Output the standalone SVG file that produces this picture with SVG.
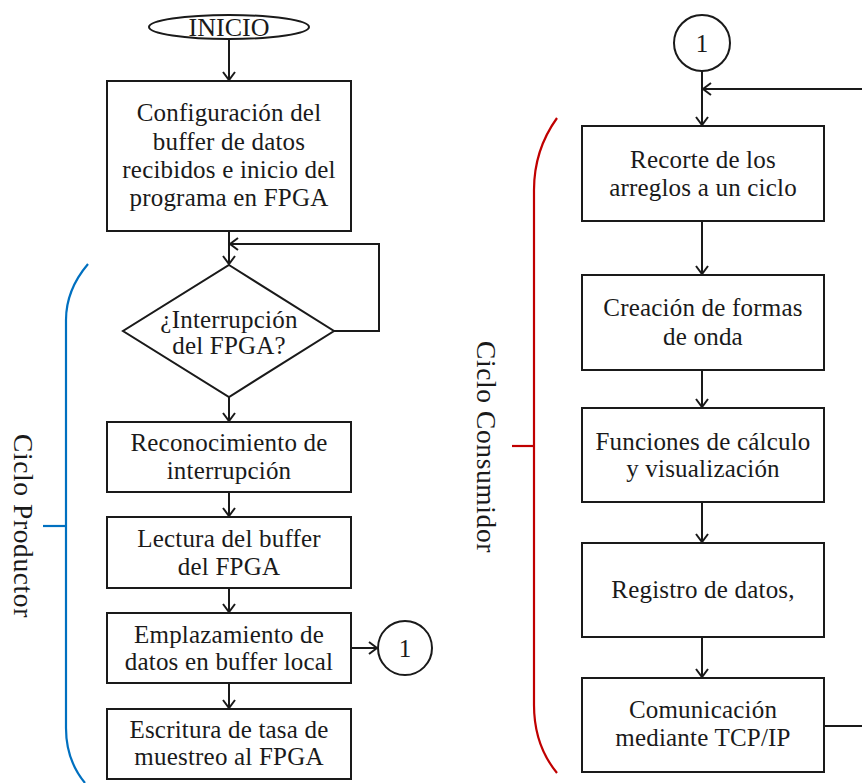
<svg xmlns="http://www.w3.org/2000/svg" width="862" height="783" viewBox="0 0 862 783">
  <style>
    .box { fill: #ffffff; stroke: #1a1a1a; stroke-width: 2; }
    .t { font-family: "Liberation Serif", "Times New Roman", serif; font-size: 25px; fill: #1a1a1a; text-anchor: middle; letter-spacing: 0.2px; }
    .lbl { font-family: "Liberation Serif", "Times New Roman", serif; font-size: 27.5px; fill: #1a1a1a; text-anchor: middle; letter-spacing: 0.6px; }
    .edge { fill: none; stroke: #1a1a1a; stroke-width: 2; }
    .brace-blue { fill: none; stroke: #0070c0; stroke-width: 2.2; }
    .brace-red { fill: none; stroke: #c00000; stroke-width: 2.2; }
  </style>
  <defs>
    <marker id="arrow" markerUnits="userSpaceOnUse" markerWidth="12" markerHeight="16" refX="9" refY="7" orient="auto">
      <path d="M1,1 L9,7 L1,13" fill="none" stroke="#1a1a1a" stroke-width="2"/>
    </marker>
  </defs>
  <rect width="862" height="783" fill="#ffffff"/>

  <!-- connectors -->
  <g id="connectors">
    <line class="edge" x1="229" y1="39" x2="229" y2="80" marker-end="url(#arrow)"/>
    <line class="edge" x1="229" y1="231" x2="229" y2="264" marker-end="url(#arrow)"/>
    <polyline class="edge" points="334,331 379,331 379,244 230,244" marker-end="url(#arrow)"/>
    <line class="edge" x1="229" y1="397" x2="229" y2="421" marker-end="url(#arrow)"/>
    <line class="edge" x1="229" y1="492" x2="229" y2="516" marker-end="url(#arrow)"/>
    <line class="edge" x1="229" y1="588" x2="229" y2="612" marker-end="url(#arrow)"/>
    <line class="edge" x1="229" y1="683" x2="229" y2="708" marker-end="url(#arrow)"/>
    <line class="edge" x1="350" y1="648" x2="377" y2="648" marker-end="url(#arrow)"/>

    <line class="edge" x1="702" y1="71" x2="702" y2="125" marker-end="url(#arrow)"/>
    <line class="edge" x1="862" y1="89" x2="703" y2="89" marker-end="url(#arrow)"/>
    <line class="edge" x1="702" y1="221" x2="702" y2="274" marker-end="url(#arrow)"/>
    <line class="edge" x1="702" y1="370" x2="702" y2="407" marker-end="url(#arrow)"/>
    <line class="edge" x1="702" y1="502" x2="702" y2="542" marker-end="url(#arrow)"/>
    <line class="edge" x1="702" y1="637" x2="702" y2="677" marker-end="url(#arrow)"/>
    <line class="edge" x1="824" y1="726" x2="862" y2="726"/>
  </g>

  <!-- producer loop -->
  <g id="inicio">
    <ellipse class="box" cx="229" cy="27" rx="80" ry="12"/>
    <text class="t" x="229" y="36" style="font-size:26px;letter-spacing:0">INICIO</text>
  </g>
  <g id="config">
    <rect class="box" x="107" y="81" width="244" height="150"/>
    <text class="t" x="229" y="121">Configuración del</text>
    <text class="t" x="229" y="150">buffer de datos</text>
    <text class="t" x="229" y="178">recibidos e inicio del</text>
    <text class="t" x="229" y="206">programa en FPGA</text>
  </g>
  <g id="decision">
    <polygon class="box" points="229,265 334,331 229,397 123,331"/>
    <text class="t" x="229" y="328">¿Interrupción</text>
    <text class="t" x="229" y="354">del FPGA?</text>
  </g>
  <g id="reconocimiento">
    <rect class="box" x="107" y="422" width="244" height="70"/>
    <text class="t" x="229" y="451">Reconocimiento de</text>
    <text class="t" x="229" y="479">interrupción</text>
  </g>
  <g id="lectura">
    <rect class="box" x="107" y="517" width="244" height="71"/>
    <text class="t" x="229" y="547">Lectura del buffer</text>
    <text class="t" x="229" y="575">del FPGA</text>
  </g>
  <g id="emplazamiento">
    <rect class="box" x="107" y="613" width="244" height="70"/>
    <text class="t" x="229" y="643">Emplazamiento de</text>
    <text class="t" x="229" y="670">datos en buffer local</text>
  </g>
  <g id="escritura">
    <rect class="box" x="107" y="709" width="244" height="70"/>
    <text class="t" x="229" y="738">Escritura de tasa de</text>
    <text class="t" x="229" y="765">muestreo al FPGA</text>
  </g>
  <g id="conector-salida">
    <circle class="box" cx="405" cy="648" r="27"/>
    <text class="t" x="405" y="657" style="letter-spacing:0">1</text>
  </g>
  <g id="ciclo-productor">
    <path class="brace-blue" d="M88,264 Q66,290 66,320 L66,728 Q66,760 85,783"/>
    <line class="brace-blue" x1="43" y1="526" x2="66" y2="526"/>
    <text class="lbl" transform="translate(14,526) rotate(90)">Ciclo Productor</text>
  </g>

  <!-- consumer loop -->
  <g id="conector-entrada">
    <circle class="box" cx="702" cy="43" r="28"/>
    <text class="t" x="702" y="52" style="letter-spacing:0">1</text>
  </g>
  <g id="recorte">
    <rect class="box" x="582" y="126" width="242" height="95"/>
    <text class="t" x="703" y="168">Recorte de los</text>
    <text class="t" x="703" y="196">arreglos a un ciclo</text>
  </g>
  <g id="formas-onda">
    <rect class="box" x="582" y="275" width="242" height="95"/>
    <text class="t" x="703" y="316">Creación de formas</text>
    <text class="t" x="703" y="345">de onda</text>
  </g>
  <g id="funciones">
    <rect class="box" x="582" y="408" width="242" height="94"/>
    <text class="t" x="703" y="450">Funciones de cálculo</text>
    <text class="t" x="703" y="477">y visualización</text>
  </g>
  <g id="registro">
    <rect class="box" x="582" y="543" width="242" height="94"/>
    <text class="t" x="703" y="598">Registro de datos,</text>
  </g>
  <g id="comunicacion">
    <rect class="box" x="582" y="678" width="242" height="94"/>
    <text class="t" x="703" y="718">Comunicación</text>
    <text class="t" x="703" y="746">mediante TCP/IP</text>
  </g>
  <g id="ciclo-consumidor">
    <path class="brace-red" d="M557,118 Q534,150 534,190 L534,705 Q534,745 557,773"/>
    <line class="brace-red" x1="512" y1="446" x2="534" y2="446"/>
    <text class="lbl" transform="translate(477,447) rotate(90)">Ciclo Consumidor</text>
  </g>
</svg>
